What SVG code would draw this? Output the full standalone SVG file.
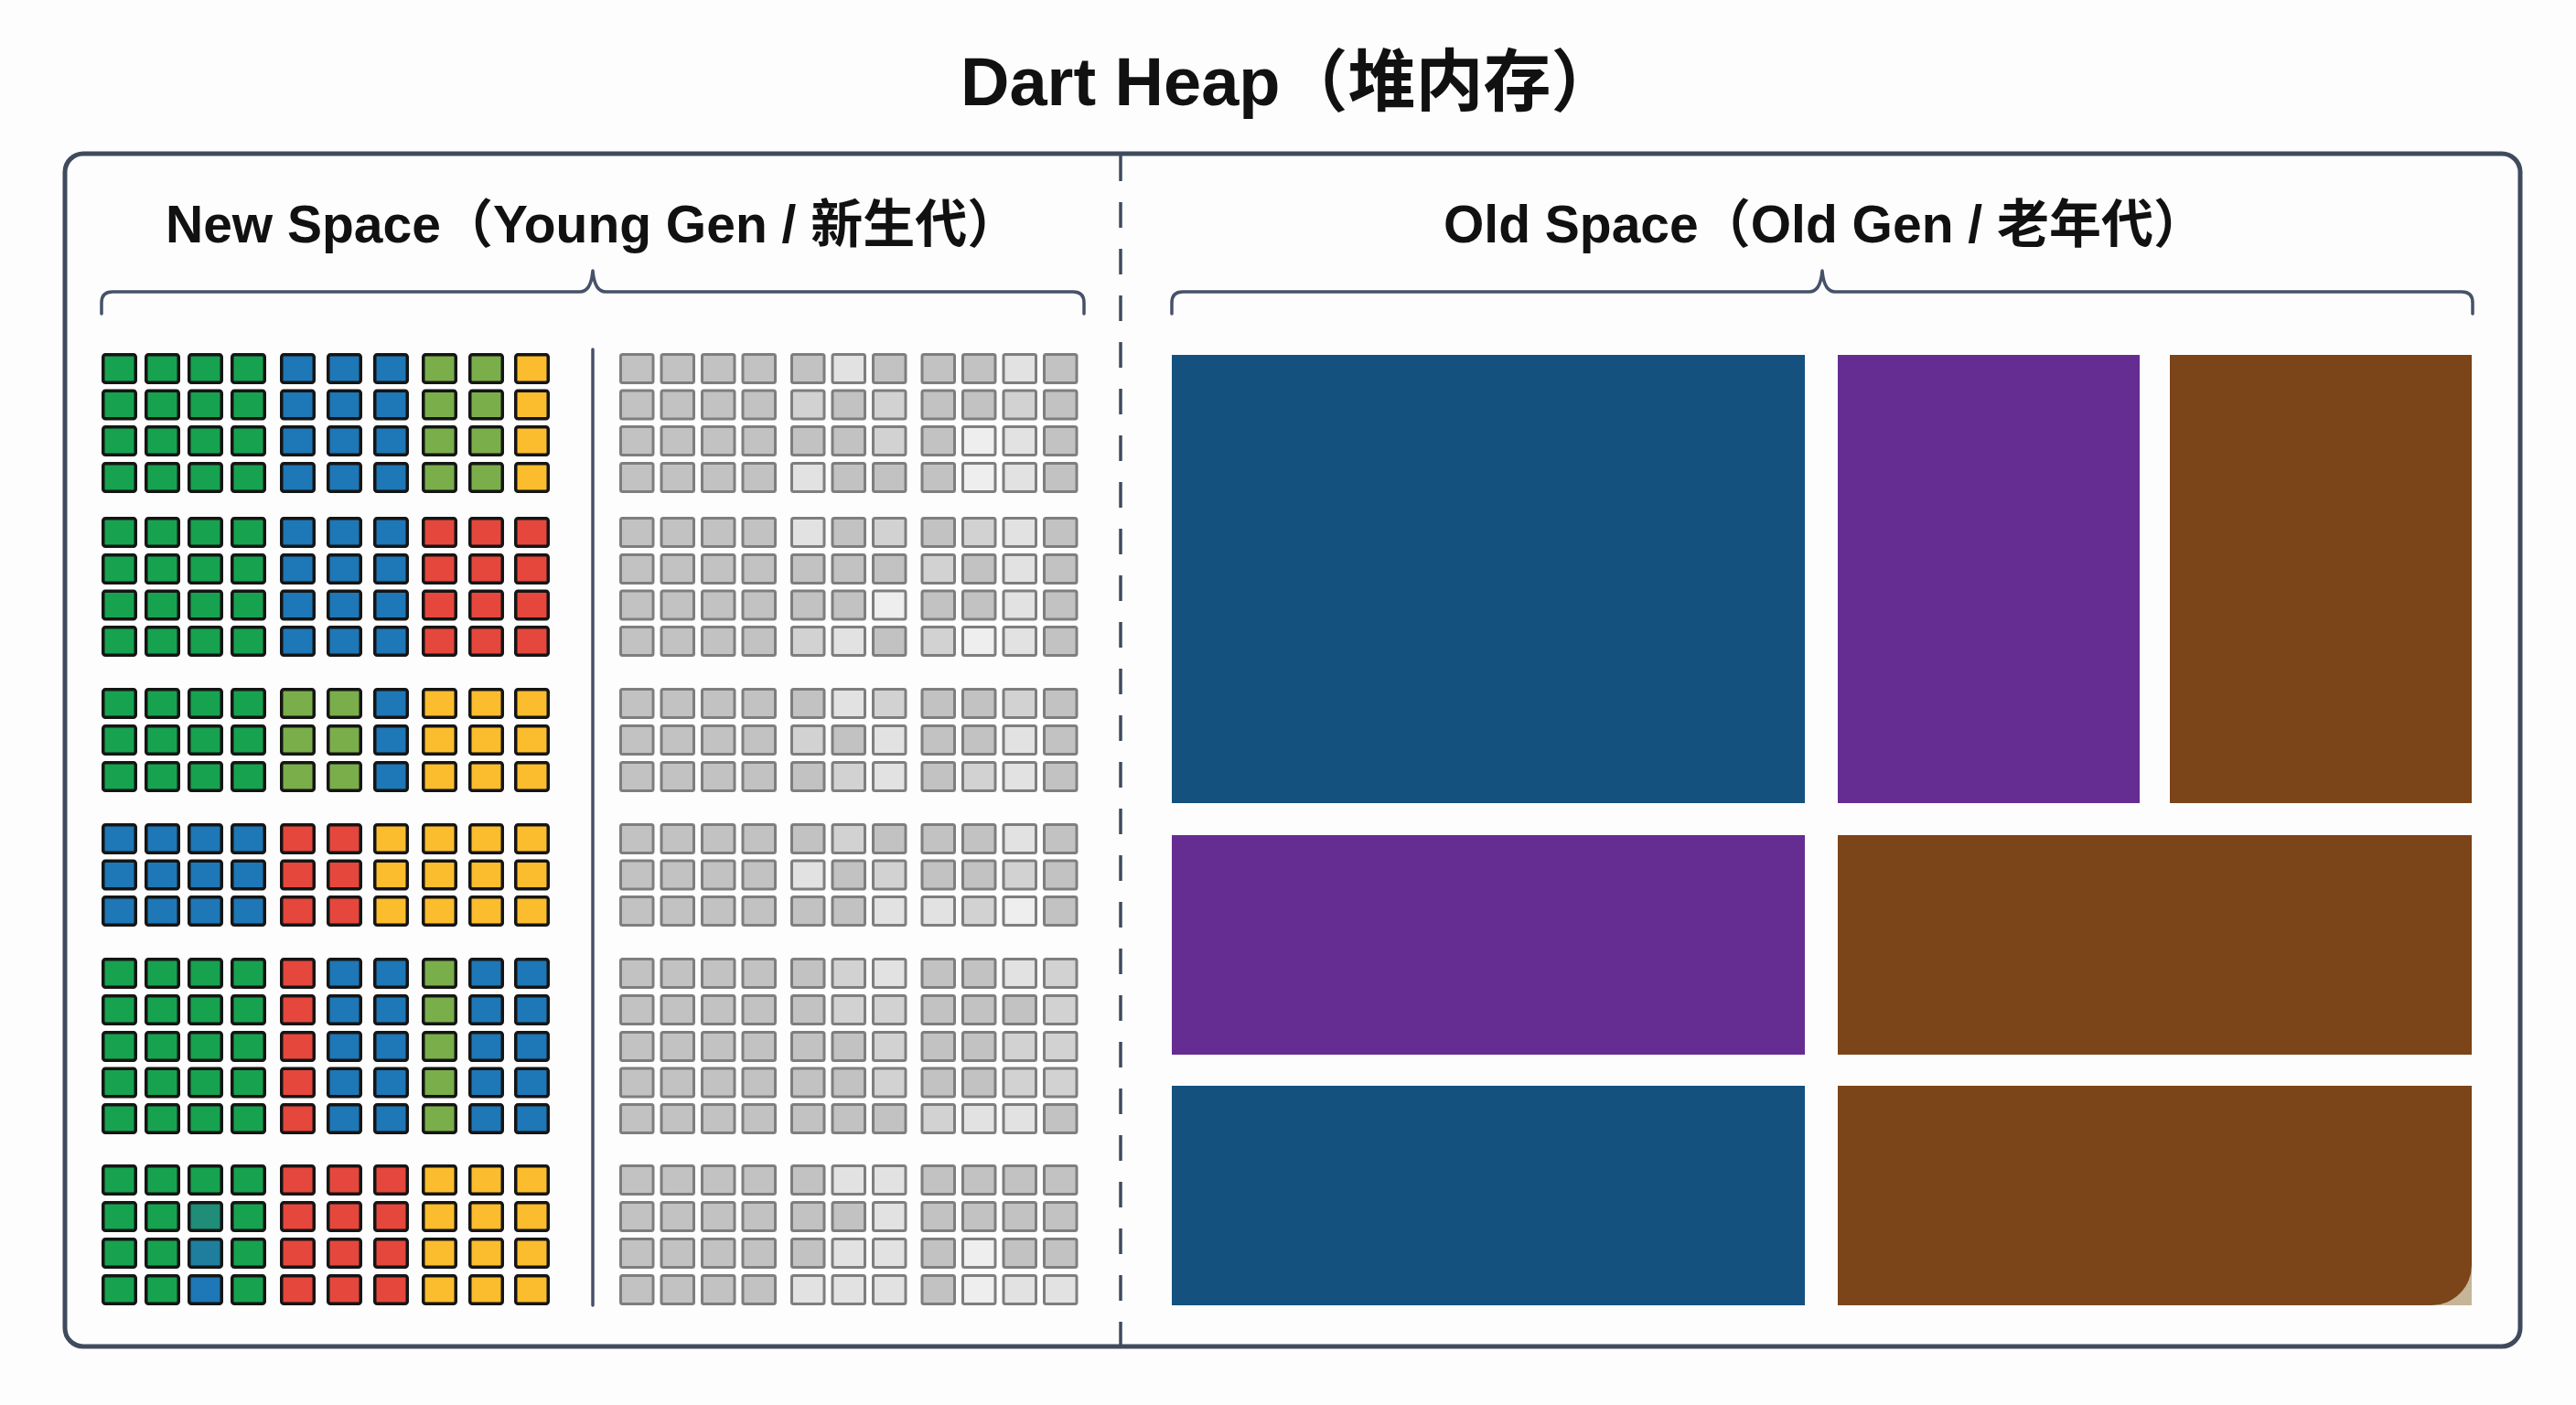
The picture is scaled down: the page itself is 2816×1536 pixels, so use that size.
<svg xmlns="http://www.w3.org/2000/svg" xmlns:xlink="http://www.w3.org/1999/xlink" width="2816" height="1536" viewBox="0 0 2816 1536">
<style>
.G{fill:#17a24f}.B{fill:#1e77b6}.L{fill:#7aae4b}.Y{fill:#fbbd2d}.R{fill:#e5473c}.T1{fill:#1f8d78}.T2{fill:#1f7e9e}
.k1{fill:#c2c2c2}.k2{fill:#d2d2d2}.k3{fill:#e2e2e2}.k4{fill:#eeeeee}
.title{font-family:"Liberation Sans","Noto Sans CJK SC",sans-serif;font-weight:bold;fill:#111}
.line{fill:none;stroke:#46526a;stroke-width:3.5;stroke-linecap:round;stroke-linejoin:round}
</style>
<defs>
<rect id="c" x="1.75" y="1.75" width="35.5" height="30.5" rx="2.5" stroke="#151515" stroke-width="3.5"/>
<rect id="g" x="1.5" y="1.5" width="35.5" height="31" rx="2" stroke="#7e7e7e" stroke-width="3"/>
<g id="pA"><use href="#c" x="111" class="G"/><use href="#c" x="158" class="G"/><use href="#c" x="205" class="G"/><use href="#c" x="252" class="G"/><use href="#c" x="306" class="B"/><use href="#c" x="357" class="B"/><use href="#c" x="408" class="B"/><use href="#c" x="461" class="L"/><use href="#c" x="512" class="L"/><use href="#c" x="562" class="Y"/></g>
<g id="pB"><use href="#c" x="111" class="G"/><use href="#c" x="158" class="G"/><use href="#c" x="205" class="G"/><use href="#c" x="252" class="G"/><use href="#c" x="306" class="B"/><use href="#c" x="357" class="B"/><use href="#c" x="408" class="B"/><use href="#c" x="461" class="R"/><use href="#c" x="512" class="R"/><use href="#c" x="562" class="R"/></g>
<g id="pC"><use href="#c" x="111" class="G"/><use href="#c" x="158" class="G"/><use href="#c" x="205" class="G"/><use href="#c" x="252" class="G"/><use href="#c" x="306" class="L"/><use href="#c" x="357" class="L"/><use href="#c" x="408" class="B"/><use href="#c" x="461" class="Y"/><use href="#c" x="512" class="Y"/><use href="#c" x="562" class="Y"/></g>
<g id="pD"><use href="#c" x="111" class="B"/><use href="#c" x="158" class="B"/><use href="#c" x="205" class="B"/><use href="#c" x="252" class="B"/><use href="#c" x="306" class="R"/><use href="#c" x="357" class="R"/><use href="#c" x="408" class="Y"/><use href="#c" x="461" class="Y"/><use href="#c" x="512" class="Y"/><use href="#c" x="562" class="Y"/></g>
<g id="pE"><use href="#c" x="111" class="G"/><use href="#c" x="158" class="G"/><use href="#c" x="205" class="G"/><use href="#c" x="252" class="G"/><use href="#c" x="306" class="R"/><use href="#c" x="357" class="B"/><use href="#c" x="408" class="B"/><use href="#c" x="461" class="L"/><use href="#c" x="512" class="B"/><use href="#c" x="562" class="B"/></g>
<g id="pF"><use href="#c" x="111" class="G"/><use href="#c" x="158" class="G"/><use href="#c" x="252" class="G"/><use href="#c" x="306" class="R"/><use href="#c" x="357" class="R"/><use href="#c" x="408" class="R"/><use href="#c" x="461" class="Y"/><use href="#c" x="512" class="Y"/><use href="#c" x="562" class="Y"/></g>
<g id="g4"><use href="#g" x="677" class="k1"/><use href="#g" x="721.5" class="k1"/><use href="#g" x="766" class="k1"/><use href="#g" x="810.5" class="k1"/></g>
</defs>
<rect width="2816" height="1536" fill="#fdfdfd"/>
<g id="title"><text class="title" x="1050" y="115" font-size="74">Dart Heap（堆内存）</text></g>
<g id="heap-border"><rect x="71" y="168" width="2684" height="1304" rx="20" fill="none" stroke="#3f4b5d" stroke-width="5"/></g>
<g id="new-space">
<text class="title" x="181" y="265" font-size="57">New Space（Young Gen / 新生代）</text>
<g id="new-colored">
<use href="#pA" y="386"/><use href="#pA" y="425.5"/><use href="#pA" y="465"/><use href="#pA" y="505"/>
<use href="#pB" y="565"/><use href="#pB" y="605"/><use href="#pB" y="644.5"/><use href="#pB" y="684"/>
<use href="#pC" y="752"/><use href="#pC" y="792"/><use href="#pC" y="832"/>
<use href="#pD" y="900"/><use href="#pD" y="939.5"/><use href="#pD" y="979"/>
<use href="#pE" y="1047"/><use href="#pE" y="1087"/><use href="#pE" y="1127"/><use href="#pE" y="1166.5"/><use href="#pE" y="1206"/>
<use href="#pF" y="1273"/><use href="#c" x="205" y="1273" class="G"/>
<use href="#pF" y="1313"/><use href="#c" x="205" y="1313" class="T1"/>
<use href="#pF" y="1353"/><use href="#c" x="205" y="1353" class="T2"/>
<use href="#pF" y="1393"/><use href="#c" x="205" y="1393" class="B"/>
</g>
<g id="new-gray">
<g transform="translate(0,386)"><use href="#g4"/><use href="#g" x="864" class="k1"/><use href="#g" x="908.5" class="k3"/><use href="#g" x="953" class="k1"/><use href="#g" x="1006.5" class="k1"/><use href="#g" x="1051" class="k1"/><use href="#g" x="1095.5" class="k3"/><use href="#g" x="1140" class="k1"/></g>
<g transform="translate(0,425.5)"><use href="#g4"/><use href="#g" x="864" class="k2"/><use href="#g" x="908.5" class="k1"/><use href="#g" x="953" class="k2"/><use href="#g" x="1006.5" class="k1"/><use href="#g" x="1051" class="k1"/><use href="#g" x="1095.5" class="k2"/><use href="#g" x="1140" class="k1"/></g>
<g transform="translate(0,465)"><use href="#g4"/><use href="#g" x="864" class="k1"/><use href="#g" x="908.5" class="k1"/><use href="#g" x="953" class="k2"/><use href="#g" x="1006.5" class="k1"/><use href="#g" x="1051" class="k4"/><use href="#g" x="1095.5" class="k3"/><use href="#g" x="1140" class="k1"/></g>
<g transform="translate(0,505)"><use href="#g4"/><use href="#g" x="864" class="k3"/><use href="#g" x="908.5" class="k1"/><use href="#g" x="953" class="k1"/><use href="#g" x="1006.5" class="k1"/><use href="#g" x="1051" class="k4"/><use href="#g" x="1095.5" class="k3"/><use href="#g" x="1140" class="k1"/></g>
<g transform="translate(0,565)"><use href="#g4"/><use href="#g" x="864" class="k3"/><use href="#g" x="908.5" class="k1"/><use href="#g" x="953" class="k2"/><use href="#g" x="1006.5" class="k1"/><use href="#g" x="1051" class="k2"/><use href="#g" x="1095.5" class="k3"/><use href="#g" x="1140" class="k1"/></g>
<g transform="translate(0,605)"><use href="#g4"/><use href="#g" x="864" class="k1"/><use href="#g" x="908.5" class="k1"/><use href="#g" x="953" class="k1"/><use href="#g" x="1006.5" class="k2"/><use href="#g" x="1051" class="k1"/><use href="#g" x="1095.5" class="k3"/><use href="#g" x="1140" class="k1"/></g>
<g transform="translate(0,644.5)"><use href="#g4"/><use href="#g" x="864" class="k1"/><use href="#g" x="908.5" class="k1"/><use href="#g" x="953" class="k4"/><use href="#g" x="1006.5" class="k1"/><use href="#g" x="1051" class="k1"/><use href="#g" x="1095.5" class="k3"/><use href="#g" x="1140" class="k1"/></g>
<g transform="translate(0,684)"><use href="#g4"/><use href="#g" x="864" class="k2"/><use href="#g" x="908.5" class="k3"/><use href="#g" x="953" class="k1"/><use href="#g" x="1006.5" class="k2"/><use href="#g" x="1051" class="k4"/><use href="#g" x="1095.5" class="k3"/><use href="#g" x="1140" class="k1"/></g>
<g transform="translate(0,752)"><use href="#g4"/><use href="#g" x="864" class="k1"/><use href="#g" x="908.5" class="k3"/><use href="#g" x="953" class="k2"/><use href="#g" x="1006.5" class="k1"/><use href="#g" x="1051" class="k1"/><use href="#g" x="1095.5" class="k2"/><use href="#g" x="1140" class="k1"/></g>
<g transform="translate(0,792)"><use href="#g4"/><use href="#g" x="864" class="k2"/><use href="#g" x="908.5" class="k1"/><use href="#g" x="953" class="k3"/><use href="#g" x="1006.5" class="k1"/><use href="#g" x="1051" class="k1"/><use href="#g" x="1095.5" class="k3"/><use href="#g" x="1140" class="k1"/></g>
<g transform="translate(0,832)"><use href="#g4"/><use href="#g" x="864" class="k1"/><use href="#g" x="908.5" class="k2"/><use href="#g" x="953" class="k3"/><use href="#g" x="1006.5" class="k1"/><use href="#g" x="1051" class="k2"/><use href="#g" x="1095.5" class="k3"/><use href="#g" x="1140" class="k1"/></g>
<g transform="translate(0,900)"><use href="#g4"/><use href="#g" x="864" class="k1"/><use href="#g" x="908.5" class="k2"/><use href="#g" x="953" class="k1"/><use href="#g" x="1006.5" class="k1"/><use href="#g" x="1051" class="k1"/><use href="#g" x="1095.5" class="k3"/><use href="#g" x="1140" class="k1"/></g>
<g transform="translate(0,939.5)"><use href="#g4"/><use href="#g" x="864" class="k3"/><use href="#g" x="908.5" class="k1"/><use href="#g" x="953" class="k2"/><use href="#g" x="1006.5" class="k1"/><use href="#g" x="1051" class="k1"/><use href="#g" x="1095.5" class="k2"/><use href="#g" x="1140" class="k1"/></g>
<g transform="translate(0,979)"><use href="#g4"/><use href="#g" x="864" class="k1"/><use href="#g" x="908.5" class="k1"/><use href="#g" x="953" class="k3"/><use href="#g" x="1006.5" class="k3"/><use href="#g" x="1051" class="k2"/><use href="#g" x="1095.5" class="k4"/><use href="#g" x="1140" class="k1"/></g>
<g transform="translate(0,1047)"><use href="#g4"/><use href="#g" x="864" class="k1"/><use href="#g" x="908.5" class="k2"/><use href="#g" x="953" class="k3"/><use href="#g" x="1006.5" class="k1"/><use href="#g" x="1051" class="k1"/><use href="#g" x="1095.5" class="k3"/><use href="#g" x="1140" class="k2"/></g>
<g transform="translate(0,1087)"><use href="#g4"/><use href="#g" x="864" class="k1"/><use href="#g" x="908.5" class="k2"/><use href="#g" x="953" class="k2"/><use href="#g" x="1006.5" class="k1"/><use href="#g" x="1051" class="k1"/><use href="#g" x="1095.5" class="k1"/><use href="#g" x="1140" class="k2"/></g>
<g transform="translate(0,1127)"><use href="#g4"/><use href="#g" x="864" class="k1"/><use href="#g" x="908.5" class="k1"/><use href="#g" x="953" class="k2"/><use href="#g" x="1006.5" class="k1"/><use href="#g" x="1051" class="k1"/><use href="#g" x="1095.5" class="k2"/><use href="#g" x="1140" class="k2"/></g>
<g transform="translate(0,1166.5)"><use href="#g4"/><use href="#g" x="864" class="k1"/><use href="#g" x="908.5" class="k1"/><use href="#g" x="953" class="k2"/><use href="#g" x="1006.5" class="k1"/><use href="#g" x="1051" class="k1"/><use href="#g" x="1095.5" class="k2"/><use href="#g" x="1140" class="k2"/></g>
<g transform="translate(0,1206)"><use href="#g4"/><use href="#g" x="864" class="k1"/><use href="#g" x="908.5" class="k1"/><use href="#g" x="953" class="k1"/><use href="#g" x="1006.5" class="k2"/><use href="#g" x="1051" class="k3"/><use href="#g" x="1095.5" class="k3"/><use href="#g" x="1140" class="k1"/></g>
<g transform="translate(0,1273)"><use href="#g4"/><use href="#g" x="864" class="k1"/><use href="#g" x="908.5" class="k3"/><use href="#g" x="953" class="k3"/><use href="#g" x="1006.5" class="k1"/><use href="#g" x="1051" class="k1"/><use href="#g" x="1095.5" class="k1"/><use href="#g" x="1140" class="k1"/></g>
<g transform="translate(0,1313)"><use href="#g4"/><use href="#g" x="864" class="k1"/><use href="#g" x="908.5" class="k1"/><use href="#g" x="953" class="k3"/><use href="#g" x="1006.5" class="k1"/><use href="#g" x="1051" class="k1"/><use href="#g" x="1095.5" class="k1"/><use href="#g" x="1140" class="k1"/></g>
<g transform="translate(0,1353)"><use href="#g4"/><use href="#g" x="864" class="k1"/><use href="#g" x="908.5" class="k3"/><use href="#g" x="953" class="k3"/><use href="#g" x="1006.5" class="k1"/><use href="#g" x="1051" class="k4"/><use href="#g" x="1095.5" class="k1"/><use href="#g" x="1140" class="k1"/></g>
<g transform="translate(0,1393)"><use href="#g4"/><use href="#g" x="864" class="k3"/><use href="#g" x="908.5" class="k3"/><use href="#g" x="953" class="k3"/><use href="#g" x="1006.5" class="k1"/><use href="#g" x="1051" class="k4"/><use href="#g" x="1095.5" class="k3"/><use href="#g" x="1140" class="k3"/></g>
</g>
</g>
<g id="old-space">
<text class="title" x="1578" y="265" font-size="57">Old Space（Old Gen / 老年代）</text>
<rect x="1281" y="388" width="692" height="490" fill="#14517e"/>
<rect x="2009" y="388" width="330" height="490" fill="#652d91"/>
<rect x="2372" y="388" width="330" height="490" fill="#7c4419"/>
<rect x="1281" y="913" width="692" height="240" fill="#652d91"/>
<rect x="2009" y="913" width="693" height="240" fill="#7c4419"/>
<rect x="1281" y="1187" width="692" height="240" fill="#14517e"/>
<rect x="2658" y="1383" width="44" height="44" fill="#c6b698"/>
<path d="M2009 1187 H2702 V1383 A44 44 0 0 1 2658 1427 H2009 Z" fill="#7c4419"/>
</g>
<g id="connectors">
<path class="line" d="M111 343 V331 Q111 319 123 319 H634 Q646 319 648 296 Q650 319 662 319 H1173 Q1185 319 1185 331 V343"/>
<path class="line" d="M1281 343 V331 Q1281 319 1293 319 H1978 Q1990 319 1992 296 Q1994 319 2006 319 H2691 Q2703 319 2703 331 V343"/>
<line class="line" x1="648" y1="382" x2="648" y2="1427"/>
<line x1="1225" y1="170" x2="1225" y2="1470" stroke="#3f4b5d" stroke-width="3.5" stroke-dasharray="28 23"/>
</g>
</svg>
